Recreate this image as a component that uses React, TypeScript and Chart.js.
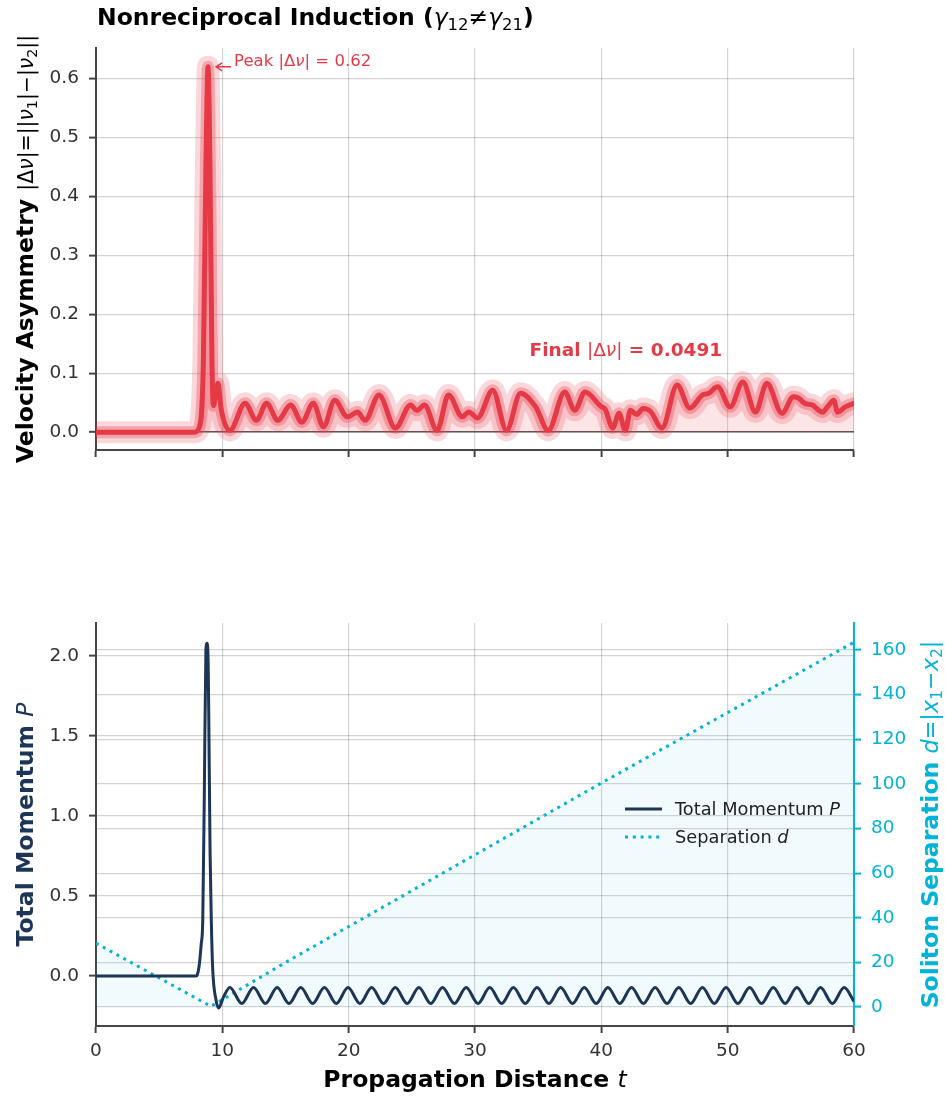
import React, { useEffect, useRef } from 'react';
import { Chart, registerables } from 'chart.js';

Chart.register(...registerables);

const FONT = '"DejaVu Sans", "Liberation Sans", sans-serif';
const RED = '#E63946';
const NAVY = '#1D3557';
const CYAN = '#00B4D8';
const AXIS = '#454545';
const GRID = 'rgba(0,0,0,0.17)';
const TICK_TEXT = '#333333';

// ---------- data ----------
const X_TICKS = [0, 10, 20, 30, 40, 50, 60];
const ASYM_TICKS = [0, 0.1, 0.2, 0.3, 0.4, 0.5, 0.6];
const MOM_TICKS = [0, 0.5, 1.0, 1.5, 2.0];
const SEP_TICKS = [0, 20, 40, 60, 80, 100, 120, 140, 160];

const asymT = [0, 7.8, 8.2, 8.5, 8.7, 8.87, 9.02, 9.18, 9.3, 9.45, 9.66, 9.9, 10.6, 11.8, 12.7, 13.5, 14.4, 15.4, 16.3, 17.2, 18.0, 18.9, 19.9, 20.7, 21.3, 22.4, 23.7, 24.9, 25.4, 26.0, 27.0, 27.9, 29.0, 29.5, 30.2, 31.4, 32.5, 33.6, 34.8, 35.8, 37.1, 37.9, 38.7, 40.0, 40.3, 40.9, 41.4, 41.9, 42.3, 42.8, 43.3, 43.9, 44.8, 46.0, 47.0, 48.0, 48.5, 49.2, 50.2, 51.2, 52.2, 53.1, 54.3, 55.2, 55.6, 56.1, 56.7, 57.5, 57.9, 58.4, 58.7, 59.3, 60];
const asymV = [0, 0, 0.01, 0.12, 0.45, 0.62, 0.45, 0.12, 0.045, 0.06, 0.083, 0.04, 0.003, 0.049, 0.02, 0.049, 0.02, 0.046, 0.017, 0.049, 0.009, 0.054, 0.026, 0.034, 0.02, 0.063, 0.007, 0.046, 0.037, 0.046, 0.003, 0.063, 0.026, 0.034, 0.024, 0.071, 0.003, 0.066, 0.043, 0.003, 0.068, 0.037, 0.068, 0.043, 0.039, 0.007, 0.032, 0.003, 0.037, 0.03, 0.04, 0.035, 0.007, 0.08, 0.041, 0.063, 0.066, 0.077, 0.043, 0.085, 0.034, 0.083, 0.032, 0.06, 0.058, 0.049, 0.046, 0.034, 0.043, 0.054, 0.034, 0.043, 0.0491];

const momT = [0, 7.9, 8.0, 8.19, 8.33, 8.45, 8.58, 8.7, 8.8, 8.88, 8.93, 9.03, 9.14, 9.24, 9.5, 9.71, 10.1, 10.6, 11.54, 12.47, 13.41, 14.34, 15.28, 16.21, 17.15, 18.08, 19.02, 19.95, 20.89, 21.82, 22.76, 23.69, 24.63, 25.56, 26.5, 27.43, 28.37, 29.3, 30.24, 31.17, 32.11, 33.04, 33.98, 34.91, 35.85, 36.78, 37.72, 38.65, 39.59, 40.52, 41.46, 42.39, 43.33, 44.26, 45.2, 46.13, 47.07, 48.0, 48.94, 49.87, 50.81, 51.74, 52.68, 53.61, 54.55, 55.48, 56.42, 57.35, 58.29, 59.22, 60];
const momP = [0, 0, 0.005, 0.08, 0.2, 0.35, 1.18, 2.04, 2.08, 1.95, 1.6, 0.77, 0.3, 0.04, -0.15, -0.2, -0.13, -0.072, -0.172, -0.072, -0.172, -0.072, -0.172, -0.072, -0.172, -0.072, -0.172, -0.072, -0.172, -0.072, -0.172, -0.072, -0.172, -0.072, -0.172, -0.072, -0.172, -0.072, -0.172, -0.072, -0.172, -0.072, -0.172, -0.072, -0.172, -0.072, -0.172, -0.072, -0.172, -0.072, -0.172, -0.072, -0.172, -0.072, -0.172, -0.072, -0.172, -0.072, -0.172, -0.072, -0.172, -0.072, -0.172, -0.072, -0.172, -0.072, -0.172, -0.072, -0.172, -0.072, -0.158];

const sepT = [0, 9.1, 15.1, 40, 60];
const sepD = [28.6, 0.3, 20.3, 100.4, 163.5];

const PEAK_T = 8.87;
const PEAK_V = 0.62;
const FINAL_V = 0.0491;

// ---------- helpers ----------
type Seg = { t: string; b?: boolean; i?: boolean; sub?: boolean; sc?: number };

function segFont(s: Seg, size: number) {
  const base = size * (s.sc ?? 1);
  const sz = s.sub ? base * 0.7 : base;
  return `${s.i ? 'italic ' : ''}${s.b ? 'bold ' : ''}${sz}px ${FONT}`;
}

function drawRich(ctx: CanvasRenderingContext2D, segs: Seg[], size: number, x: number, y: number, align: 'left' | 'center', color: string, rotate = false) {
  ctx.save();
  ctx.fillStyle = color;
  ctx.textBaseline = 'alphabetic';
  ctx.textAlign = 'left';
  let total = 0;
  const widths = segs.map((s) => {
    ctx.font = segFont(s, size);
    const w = ctx.measureText(s.t).width;
    total += w;
    return w;
  });
  ctx.translate(x, y);
  if (rotate) ctx.rotate(-Math.PI / 2);
  let cx = align === 'center' ? -total / 2 : 0;
  segs.forEach((s, k) => {
    ctx.font = segFont(s, size);
    ctx.fillText(s.t, cx, s.sub ? size * (s.sc ?? 1) * 0.2 : 0);
    cx += widths[k];
  });
  ctx.restore();
}

const pts = (xs: number[], ys: number[]) => xs.map((x, i) => ({ x, y: ys[i] }));

const tickFont = { family: FONT, size: 18.5 };

function xScale(showLabels: boolean, height: number) {
  return {
    type: 'linear',
    position: 'bottom',
    min: 0,
    max: 60,
    afterBuildTicks: (s: any) => { s.ticks = X_TICKS.map((v) => ({ value: v })); },
    afterFit: (s: any) => { s.height = height; },
    ticks: {
      autoSkip: false,
      maxRotation: 0,
      font: tickFont,
      color: TICK_TEXT,
      padding: 7,
      callback: (v: any) => (showLabels ? String(v) : ''),
    },
    grid: { color: GRID, lineWidth: 1.2, tickColor: AXIS, tickLength: 7, tickWidth: 2, drawTicks: true },
    border: { display: true, color: AXIS, width: 2 },
  };
}

function TopChart() {
  const ref = useRef<HTMLCanvasElement>(null);
  useEffect(() => {
    const data = pts(asymT, asymV);
    const M = 0.87;
    const deco = {
      id: 'decoTop',
      afterDraw(chart: any) {
        const ctx = chart.ctx as CanvasRenderingContext2D;
        const xs = chart.scales.x;
        const ys = chart.scales.y;
        // title
        drawRich(ctx, [
          { t: 'Nonreciprocal Induction (', b: true },
          { t: 'γ', i: true }, { t: '12', sub: true },
          { t: '≠' },
          { t: 'γ', i: true }, { t: '21', sub: true },
          { t: ')', b: true },
        ], 23.5, 97, 25, 'left', '#000');
        // y label
        drawRich(ctx, [
          { t: 'Velocity Asymmetry ', b: true },
          { t: '|Δ', sc: M }, { t: 'ν', i: true, sc: M }, { t: '|=||', sc: M },
          { t: 'ν', i: true, sc: M }, { t: '1', sub: true, sc: M }, { t: '|−|', sc: M },
          { t: 'ν', i: true, sc: M }, { t: '2', sub: true, sc: M }, { t: '||', sc: M },
        ], 23.5, 33, (chart.chartArea.top + chart.chartArea.bottom) / 2, 'center', '#000', true);
        // peak annotation
        const px = xs.getPixelForValue(PEAK_T);
        const py = ys.getPixelForValue(PEAK_V);
        ctx.save();
        ctx.strokeStyle = RED;
        ctx.lineWidth = 1.5;
        ctx.beginPath();
        ctx.moveTo(px + 23, py);
        ctx.lineTo(px + 8, py);
        ctx.moveTo(px + 14, py - 4);
        ctx.lineTo(px + 8, py);
        ctx.lineTo(px + 14, py + 4);
        ctx.stroke();
        ctx.restore();
        drawRich(ctx, [
          { t: 'Peak ' }, { t: '|Δ' }, { t: 'ν', i: true }, { t: '| = ' + PEAK_V.toFixed(2) },
        ], 16.5, px + 26, py - 1, 'left', RED);
        // final annotation
        drawRich(ctx, [
          { t: 'Final ', b: true }, { t: '|Δ' }, { t: 'ν', i: true }, { t: '|' },
          { t: ' = ' + FINAL_V.toFixed(4), b: true },
        ], 18.5, xs.getPixelForValue(41.94), ys.getPixelForValue(0.13), 'center', RED);
      },
    };
    const chart = new Chart(ref.current!, {
      type: 'line',
      data: {
        datasets: [
          { data, borderColor: 'rgba(230,57,70,0.2)', borderWidth: 22, fill: 'origin', backgroundColor: 'rgba(230,57,70,0.13)', order: 3 },
          { data, borderColor: 'rgba(230,57,70,0.32)', borderWidth: 12, fill: false, order: 2 },
          { data, borderColor: RED, borderWidth: 5, fill: false, order: 1 },
        ].map((d) => ({ ...d, pointRadius: 0, cubicInterpolationMode: 'monotone', clip: 0, borderJoinStyle: 'round', borderCapStyle: 'round' })) as any,
      },
      options: {
        animation: false,
        responsive: false,
        events: [],
        layout: { padding: { top: 48, right: 91, left: 0, bottom: 0 } },
        plugins: { legend: { display: false }, tooltip: { enabled: false } },
        scales: {
          x: xScale(false, 50) as any,
          y: {
            type: 'linear',
            position: 'left',
            min: -0.0303,
            max: 0.652,
            afterBuildTicks: (s: any) => { s.ticks = ASYM_TICKS.map((v) => ({ value: v })); },
            afterFit: (s: any) => { s.width = 96; },
            ticks: { font: tickFont, color: TICK_TEXT, padding: 10, callback: (v: any) => Number(v).toFixed(1) },
            grid: {
              color: (c: any) => (c.tick && Math.abs(c.tick.value) < 1e-9 ? '#555555' : GRID),
              lineWidth: (c: any) => (c.tick && Math.abs(c.tick.value) < 1e-9 ? 1.6 : 1.2),
              tickColor: AXIS, tickLength: 7, tickWidth: 2,
            },
            border: { display: true, color: AXIS, width: 2 },
          } as any,
        },
      },
      plugins: [deco],
    });
    return () => chart.destroy();
  }, []);
  return <canvas ref={ref} width={945} height={500} style={{ position: 'absolute', left: 0, top: 0, width: 945, height: 500 }} />;
}

function BottomChart() {
  const ref = useRef<HTMLCanvasElement>(null);
  useEffect(() => {
    const deco = {
      id: 'decoBottom',
      afterDraw(chart: any) {
        const ctx = chart.ctx as CanvasRenderingContext2D;
        const midY = (chart.chartArea.top + chart.chartArea.bottom) / 2;
        const midX = (chart.chartArea.left + chart.chartArea.right) / 2;
        const M = 0.95;
        drawRich(ctx, [{ t: 'Total Momentum ', b: true }, { t: 'P', i: true }], 23.5, 33, midY, 'center', NAVY, true);
        drawRich(ctx, [
          { t: 'Soliton Separation ', b: true }, { t: 'd', i: true, sc: M }, { t: '=|', sc: M },
          { t: 'x', i: true, sc: M }, { t: '1', sub: true, sc: M }, { t: '−', sc: M },
          { t: 'x', i: true, sc: M }, { t: '2', sub: true, sc: M }, { t: '|', sc: M },
        ], 23.5, 938, midY, 'center', CYAN, true);
        drawRich(ctx, [{ t: 'Propagation Distance ', b: true }, { t: 't', i: true }], 23.5, midX, 587, 'center', '#000');
        // legend
        ctx.save();
        ctx.lineWidth = 3;
        ctx.strokeStyle = NAVY;
        ctx.beginPath();
        ctx.moveTo(625, 309);
        ctx.lineTo(662, 309);
        ctx.stroke();
        ctx.strokeStyle = CYAN;
        ctx.setLineDash([3, 4.8]);
        ctx.beginPath();
        ctx.moveTo(625, 337);
        ctx.lineTo(662, 337);
        ctx.stroke();
        ctx.restore();
        drawRich(ctx, [{ t: 'Total Momentum ' }, { t: 'P', i: true }], 17.8, 675, 315, 'left', '#222');
        drawRich(ctx, [{ t: 'Separation ' }, { t: 'd', i: true }], 17.8, 675, 343, 'left', '#222');
      },
    };
    const chart = new Chart(ref.current!, {
      type: 'line',
      data: {
        datasets: [
          {
            data: pts(momT, momP), yAxisID: 'y', borderColor: NAVY, borderWidth: 3, fill: false,
            pointRadius: 0, cubicInterpolationMode: 'monotone', order: 1, clip: 0,
          },
          {
            data: pts(sepT, sepD), yAxisID: 'y1', borderColor: CYAN, borderWidth: 3, borderDash: [3, 4.8],
            fill: 'origin', backgroundColor: 'rgba(0,180,216,0.055)', pointRadius: 0, tension: 0, order: 2, clip: 0,
          },
        ] as any,
      },
      options: {
        animation: false,
        responsive: false,
        events: [],
        layout: { padding: { top: 123, right: 0, left: 0, bottom: 0 } },
        plugins: { legend: { display: false }, tooltip: { enabled: false } },
        scales: {
          x: xScale(true, 71) as any,
          y: {
            type: 'linear',
            position: 'left',
            min: -0.3125,
            max: 2.206,
            afterBuildTicks: (s: any) => { s.ticks = MOM_TICKS.map((v) => ({ value: v })); },
            afterFit: (s: any) => { s.width = 96; },
            ticks: { font: tickFont, color: TICK_TEXT, padding: 10, callback: (v: any) => Number(v).toFixed(1) },
            grid: { color: GRID, lineWidth: 1.2, tickColor: AXIS, tickLength: 7, tickWidth: 2 },
            border: { display: true, color: AXIS, width: 2 },
          } as any,
          y1: {
            type: 'linear',
            position: 'right',
            min: -8.5,
            max: 172.1,
            afterBuildTicks: (s: any) => { s.ticks = SEP_TICKS.map((v) => ({ value: v })); },
            afterFit: (s: any) => { s.width = 91; },
            ticks: { font: tickFont, color: CYAN, padding: 10, callback: (v: any) => String(v) },
            grid: { color: GRID, lineWidth: 1.2, tickColor: CYAN, tickLength: 7, tickWidth: 2 },
            border: { display: true, color: CYAN, width: 2 },
          } as any,
        },
      },
      plugins: [deco],
    });
    return () => chart.destroy();
  }, []);
  return <canvas ref={ref} width={945} height={597} style={{ position: 'absolute', left: 0, top: 500, width: 945, height: 597 }} />;
}

export default function App() {
  return (
    <div style={{ position: 'absolute', left: 0, top: 0, width: 945, height: 1097, background: '#ffffff', overflow: 'hidden' }}>
      <TopChart />
      <BottomChart />
    </div>
  );
}
